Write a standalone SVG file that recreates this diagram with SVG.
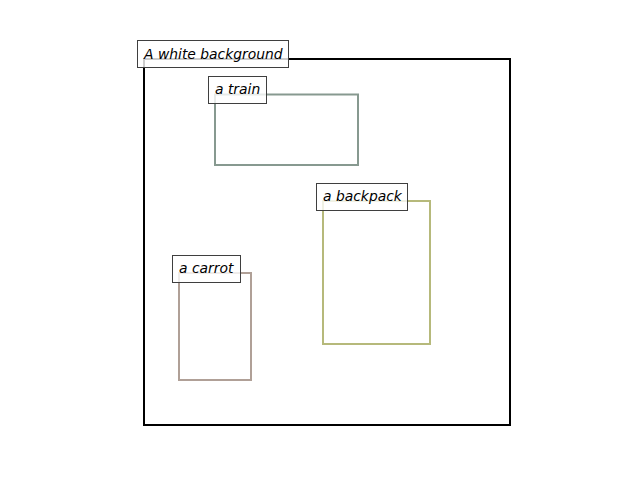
<svg xmlns="http://www.w3.org/2000/svg" width="640" height="480" viewBox="0 0 640 480">
<style>
.box{fill:none;stroke-width:2;stroke-linejoin:miter}
.lbl{fill:#ffffff;fill-opacity:0.8;stroke:#3f3f3f;stroke-width:1}
.txt{font-family:"DejaVu Sans",sans-serif;font-style:oblique;font-size:13.89px;fill:#000000}
</style>
<rect x="0" y="0" width="640" height="480" fill="#ffffff"/>
<g id="background">
<rect class="box" x="144" y="59" width="366" height="366" stroke="#000000"/>
</g>
<g id="train">
<rect class="box" x="215" y="94.5" width="143" height="70.5" stroke="#879990"/>
</g>
<g id="backpack">
<rect class="box" x="323" y="201" width="107" height="143" stroke="#b6b97b"/>
</g>
<g id="carrot">
<rect class="box" x="179" y="273" width="72" height="107" stroke="#b0a097"/>
</g>
<g id="label-background">
<rect class="lbl" x="137.5" y="40.5" width="151" height="27"/>
<text class="txt" x="144" y="59">A white background</text>
</g>
<g id="label-train">
<rect class="lbl" x="208.5" y="76.5" width="58" height="27"/>
<text class="txt" x="215" y="94">a train</text>
</g>
<g id="label-backpack">
<rect class="lbl" x="316.5" y="183.5" width="91" height="27"/>
<text class="txt" x="323" y="201">a backpack</text>
</g>
<g id="label-carrot">
<rect class="lbl" x="172.5" y="255.5" width="68" height="27"/>
<text class="txt" x="179" y="273">a carrot</text>
</g>
</svg>
